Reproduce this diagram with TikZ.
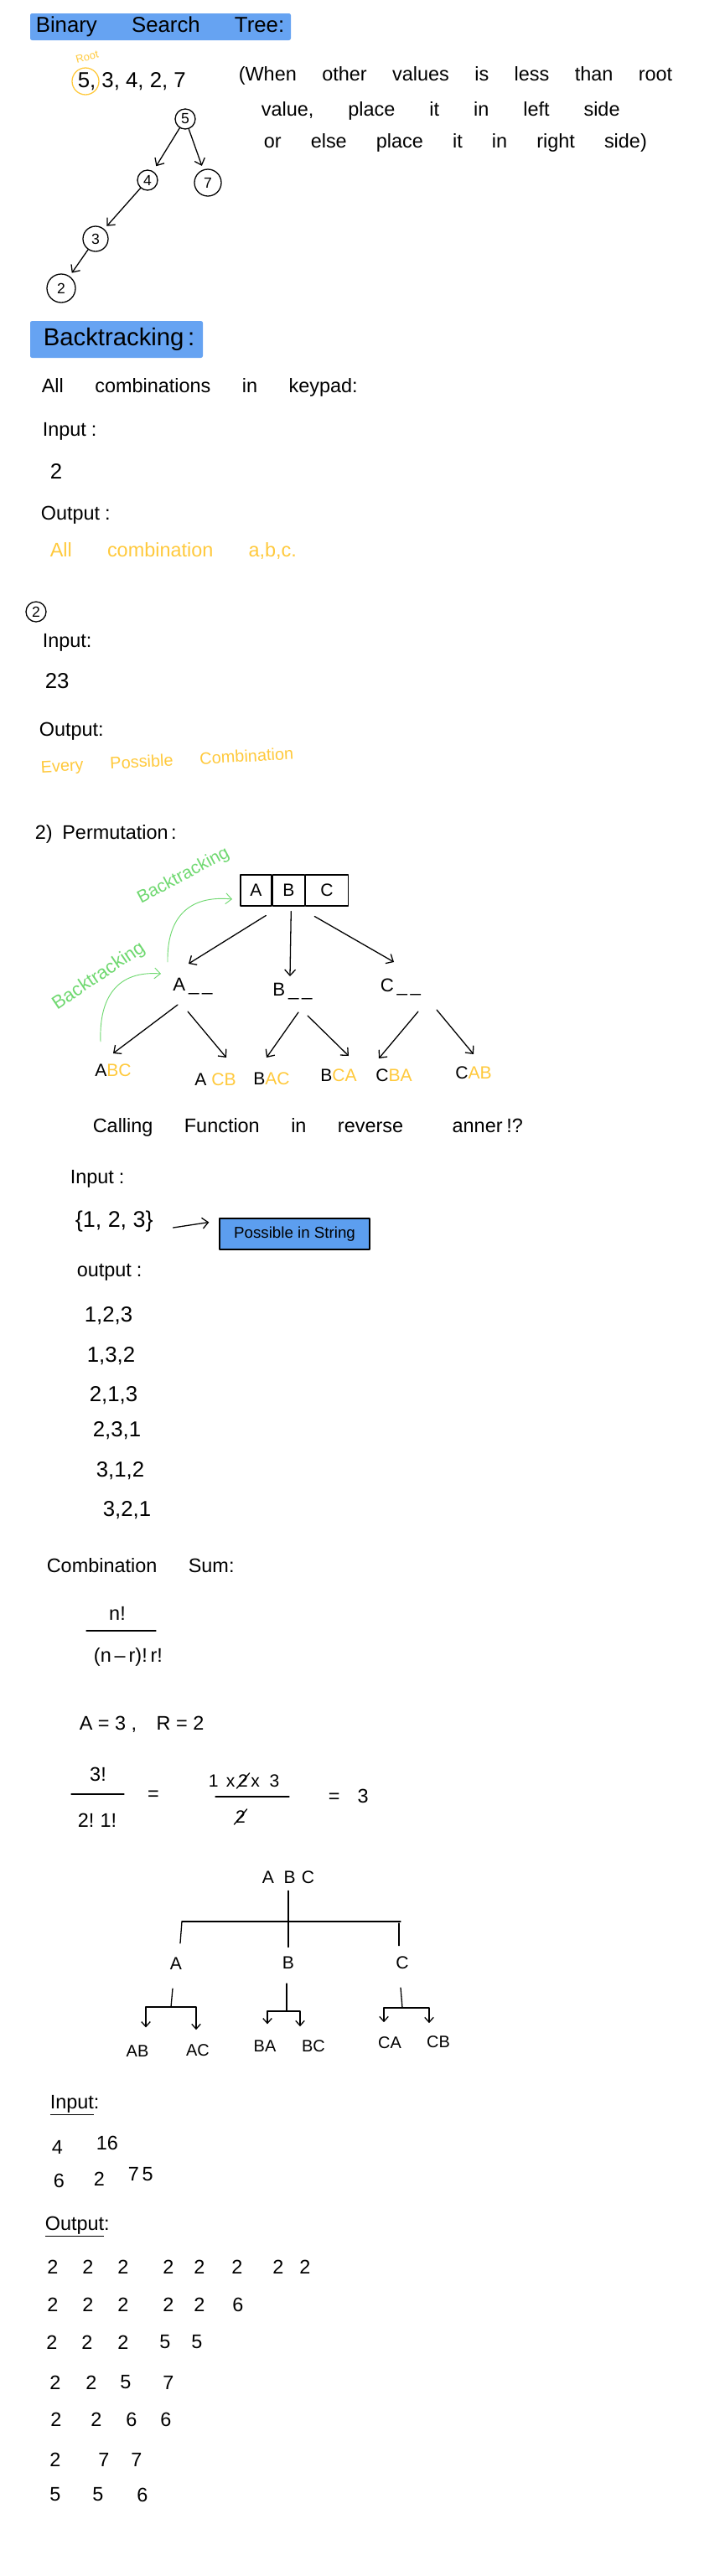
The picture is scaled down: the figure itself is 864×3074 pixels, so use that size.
\documentclass[tikz,border=0pt]{standalone}
\usepackage{fontspec}
\setmainfont{Liberation Sans}
\usetikzlibrary{arrows.meta,calc,positioning}
\definecolor{hilite}{HTML}{66A3F2}
\definecolor{marker}{HTML}{FFC93C}
\definecolor{trail}{HTML}{6FD870}
\definecolor{btnblue}{HTML}{5C9EEF}
\newcommand\handfont[1]{\fontsize{#1}{#1}\selectfont\spaceskip=1.6em plus .2em\relax}

\begin{document}
\begin{tikzpicture}[x=0.03cm, y=-0.03cm,
    line width=1.1pt, line cap=round, line join=round,
    >={Straight Barb[length=6pt,width=11pt]},
    txt/.style={anchor=west, inner sep=1pt, font=\handfont{20}},
    note/.style={txt, text=marker},
    num/.style={inner sep=1pt, font=\fontsize{20}{20}\selectfont},
    leaf/.style={inner sep=1pt, font=\fontsize{18}{18}\selectfont},
    bst/.style={circle, draw, inner sep=0pt, font=\fontsize{15}{15}\selectfont},
    back/.style={inner sep=0pt, text=trail, font=\fontsize{18}{18}\selectfont},
    cell/.style={draw, minimum height=1.11cm, inner sep=0pt, font=\fontsize{18}{18}\selectfont},
    small/.style={>={Straight Barb[length=5pt,width=9pt]}},
  ]
\useasboundingbox (0,0) rectangle (864,3074);

% binary search tree
\fill[hilite, rounded corners=2pt] (36,16) rectangle (347,48);
\node[txt, font=\handfont{22}] (bsthead) at (41,32) {Binary Search Tree:};
\node[note, font=\fontsize{11}{11}\selectfont, rotate=15, anchor=center] (root) at (104,68) {Root};
\node[num, anchor=west, font=\fontsize{22}{22}\selectfont] (seq) at (91,97) {5, 3, 4, 2, 7};
\draw[marker] (102,97) circle[radius=0.48cm];
\node[txt, font={\handfont{20}\spaceskip=1.3em\relax}] (rule1) at (283,90) {(When other values is less than root};
\node[txt, font={\handfont{20}\spaceskip=1.75em\relax}] (rule2) at (310,132) {value, place it in left side};
\node[txt, font={\handfont{20}\spaceskip=1.5em\relax}] (rule3) at (313,170) {or else place it in right side)};

\node[bst, minimum size=0.72cm] (n5) at (221,142) {5};
\node[bst, minimum size=0.72cm] (n4) at (176,215) {4};
\node[bst, minimum size=0.96cm] (n7) at (248,218) {7};
\node[bst, minimum size=0.9cm] (n3) at (114,285) {3};
\node[bst, minimum size=1.02cm] (n2) at (73,344) {2};
\draw[->, shorten >=6pt] (n5) -- (n4);
\draw[->, shorten >=4pt] (n5) -- (n7);
\draw[->, shorten >=4pt] (n4) -- (n3);
\draw[->, shorten >=4pt] (n3) -- (n2);

% backtracking
\fill[hilite, rounded corners=2pt] (36,383) rectangle (242,427);
\node[txt, font=\handfont{25}] (bthead) at (50,405) {Backtracking\hspace{4pt}:};
\node[txt] (keypad) at (48,462) {All combinations in keypad:};
\node[txt] (in1) at (49,515) {Input\hspace{5pt}:};
\node[txt, font=\handfont{22}] (in1v) at (58,562) {2};
\node[txt] (out1) at (47,615) {Output\hspace{5pt}:};
\node[note, font={\handfont{20}\spaceskip=1.8em\relax}] (out1v) at (58,657) {All combination a,b,c.};

\node[bst, minimum size=0.72cm] (case2) at (43,730) {2};
\node[txt] (in2) at (49,767) {Input:};
\node[txt, font=\handfont{22}] (in2v) at (52,813) {23};
\node[txt] (out2) at (45,873) {Output:};
\node[note, font=\handfont{17}, rotate=3] (out2v) at (47,917) {Every Possible Combination};

% permutation
\node[txt, font={\handfont{20}\spaceskip=.5em\relax}] (perm) at (40,995) {2) Permutation\hspace{3pt}:};
\node[cell, minimum width=1.11cm] (cellA) at (305.5,1062.5) {A};
\node[cell, minimum width=1.14cm, right=0pt of cellA] (cellB) {B};
\node[cell, minimum width=1.53cm, right=0pt of cellB] (cellC) {C};

\node[back, rotate=28] (bt1) at (219,1045) {Backtracking};
\node[back, rotate=34, font=\fontsize{19}{19}\selectfont] (bt2) at (118,1165) {Backtracking};
\coordinate (bt1s) at (200,1148);
\coordinate (bt1e) at (277,1073);
\coordinate (bt2s) at (120,1243);
\coordinate (bt2e) at (192,1162);
\draw[trail, ->, line width=0.8pt] (bt1s) .. controls (199,1095) and (225,1068) .. (bt1e);
\draw[trail, ->, line width=0.8pt] (bt2s) .. controls (118,1190) and (140,1158) .. (bt2e);

\node[num, font=\fontsize{19}{19}\selectfont] (pA) at (230,1177) {A\,\_\,\_};
\node[num, font=\fontsize{19}{19}\selectfont] (pB) at (349,1183) {B\,\_\,\_};
\node[num, font=\fontsize{19}{19}\selectfont] (pC) at (478,1178) {C\,\_\,\_};
\draw[->] ($(cellB)+(-27,30)$) -- ($(pA)+(-5,-27)$);
\draw[->] ($(cellB)+(3,25)$) -- ($(pB)+(-3,-18)$);
\draw[->] ($(cellB)+(31,31)$) -- ($(pC)+(-8,-30)$);

\node[leaf] (l1) at (135,1277) {A\textcolor{marker}{BC}};
\node[leaf] (l2) at (257,1288) {A \textcolor{marker}{CB}};
\node[leaf] (l3) at (324,1287) {B\textcolor{marker}{AC}};
\node[leaf] (l4) at (404,1283) {B\textcolor{marker}{CA}};
\node[leaf] (l5) at (470,1283) {C\textcolor{marker}{BA}};
\node[leaf] (l6) at (565,1280) {C\textcolor{marker}{AB}};
\draw[->] ($(pA)+(-18,22)$) -- ($(l1)+(0,-20)$);
\draw[->] ($(pA)+(-6,30)$) -- ($(l2)+(13,-26)$);
\draw[->] ($(pB)+(7,25)$) -- ($(l3)+(-6,-25)$);
\draw[->] ($(pB)+(18,29)$) -- ($(l4)+(12,-23)$);
\draw[->] ($(pC)+(21,29)$) -- ($(l5)+(-18,-20)$);
\draw[->] ($(pC)+(43,27)$) -- ($(l6)+(0,-22)$);

\node[txt] (reverse) at (109,1345) {Calling Function in reverse\hspace{0.9em} anner\hspace{4pt}!?};

% possible in string
\node[txt] (in3) at (82,1407) {Input\hspace{5pt}:};
\node[num, anchor=west, font=\fontsize{23}{23}\selectfont] (set) at (88,1458) {\{1, 2, 3\}};
\node[draw, fill=btnblue, minimum width=5.37cm, minimum height=1.11cm, font=\fontsize{16}{16}\selectfont] (strbox) at (351.5,1472.5) {Possible in String};
\draw[->] ($(set.east)+(22,7)$) -- ($(strbox.west)+(-12,-14)$);
\node[txt] (out3) at (90,1518) {output\hspace{5pt}:};
\foreach \x/\y/\p [count=\i] in {99/1570/{1,2,3}, 102/1618/{1,3,2}, 105/1665/{2,1,3}, 109/1707/{2,3,1}, 113/1755/{3,1,2}, 121/1802/{3,2,1}}
  \node[num, anchor=west, font=\fontsize{22}{22}\selectfont] (perm\i) at (\x,\y) {\p};

% combination sum
\node[txt] (combsum) at (54,1868) {Combination Sum:};
\node[num] (fnum) at (140,1925) {n!};
\draw (103,1946) -- (186,1946);
\node[num] (fden) at (153,1977) {(n\,--\,r)!\,r!};
\node[num, anchor=west] (ar) at (93,2058) {A = 3 ,\hspace{1em}R = 2};
\node[num] (f2num) at (117,2117) {3!};
\draw (85,2141) -- (148,2141);
\node[num] (f2den) at (116,2172) {2!\hspace{6pt}1!};
\node[num] (eq1) at (183,2143) {=};
\node[num, font=\fontsize{18}{18}\selectfont] (two1) at (290,2125) {2};
\node[num, font=\fontsize{18}{18}\selectfont, anchor=east] (mul1) at (two1.west) {1\hspace{8pt}x};
\node[num, font=\fontsize{18}{18}\selectfont, anchor=west] (mul3) at (two1.east) {x\hspace{10pt}3};
\draw (two1.south west) -- (two1.north east);
\draw (257,2144) -- (345,2144);
\node[num, font=\fontsize{18}{18}\selectfont] (two2) at (287,2168) {2};
\draw (two2.south west) -- (two2.north east);
\node[num, anchor=west] (res) at (390,2143) {=\hspace{18pt}3};

\node[leaf] (abc2) at (344,2240) {A\hspace{10pt}B\hspace{6pt}C};
\node[leaf] (a2) at (210,2343) {A};
\node[leaf] (b2) at (344,2342) {B};
\node[leaf] (c2) at (480,2342) {C};
\coordinate (bar) at (344,2293);
\draw[shorten <=6pt, shorten >=8pt] (abc2) -- (b2);
\draw ($(a2|-bar)+(7,0)$) -- ($(c2|-bar)+(-2,0)$);
\draw ($(a2|-bar)+(7,0)$) -- ($(a2.north)+(5,-15)$);
\draw ($(c2|-bar)+(-4,2)$) -- ($(c2.north)+(-4,-11)$);

\node[leaf, font=\fontsize{17}{17}\selectfont] (ab) at (164,2448) {AB};
\node[leaf, font=\fontsize{17}{17}\selectfont] (ac) at (236,2447) {AC};
\node[leaf, font=\fontsize{17}{17}\selectfont] (ba) at (316,2442) {BA};
\node[leaf, font=\fontsize{17}{17}\selectfont] (bc) at (374,2442) {BC};
\node[leaf, font=\fontsize{17}{17}\selectfont] (ca) at (465,2438) {CA};
\node[leaf, font=\fontsize{17}{17}\selectfont] (cb) at (523,2437) {CB};
\coordinate (jA) at ($(a2)+(-6,52)$);
\coordinate (jB) at ($(b2)+(-2,58)$);
\coordinate (jC) at ($(c2)+(0,54)$);
\draw ($(a2)+(-4,30)$) -- (jA);
\draw ($(b2)+(-2,25)$) -- (jB);
\draw ($(c2)+(-2,30)$) -- (jC);
\draw[small, ->] (jA) -| ($(ab.north)+(10,-20)$);
\draw[small, ->] (jA) -| ($(ac.north)+(-2,-16)$);
\draw[small, ->] (jB) -| ($(ba.north)+(3,-18)$);
\draw[small, ->] (jB) -| ($(bc.north)+(-16,-15)$);
\draw[small, ->] (jC) -| ($(ca.north)+(-7,-16)$);
\draw[small, ->] (jC) -| ($(cb.north)+(-11,-14)$);

% combination sum input / output
\node[txt] (in4) at (58,2512) {\underline{Input}:};
\node[num, anchor=west] (k1) at (60,2562) {4};
\node[num, anchor=west] (k2) at (113,2557) {16};
\node[num, anchor=west] (k3) at (62,2602) {6};
\node[num, anchor=west] (k4) at (110,2600) {2};
\node[num, anchor=west] (k5) at (151,2595) {7\,5};
\node[txt] (out4) at (52,2657) {\underline{Output}:};
\foreach \x in {63,105,147,201,238,283,332,364}
  \node[num] (r1-\x) at (\x,2705) {2};
\foreach \x/\d in {63/2,105/2,147/2,201/2,238/2,284/6}
  \node[num] (r2-\x) at (\x,2750) {\d};
\foreach \x/\d in {62/2,104/2,147/2,197/5,235/5}
  \node[num] (r3-\x) at (\x,2795) {\d};
\foreach \x/\d in {66/2,109/2,150/5,201/7}
  \node[num] (r4-\x) at (\x,2843) {\d};
\foreach \x/\d in {67/2,115/2,157/6,198/6}
  \node[num] (r5-\x) at (\x,2887) {\d};
\foreach \x/\d in {66/2,124/7,163/7}
  \node[num] (r6-\x) at (\x,2935) {\d};
\foreach \x/\d in {66/5,117/5,170/6}
  \node[num] (r7-\x) at (\x,2977) {\d};
\end{tikzpicture}
\end{document}
